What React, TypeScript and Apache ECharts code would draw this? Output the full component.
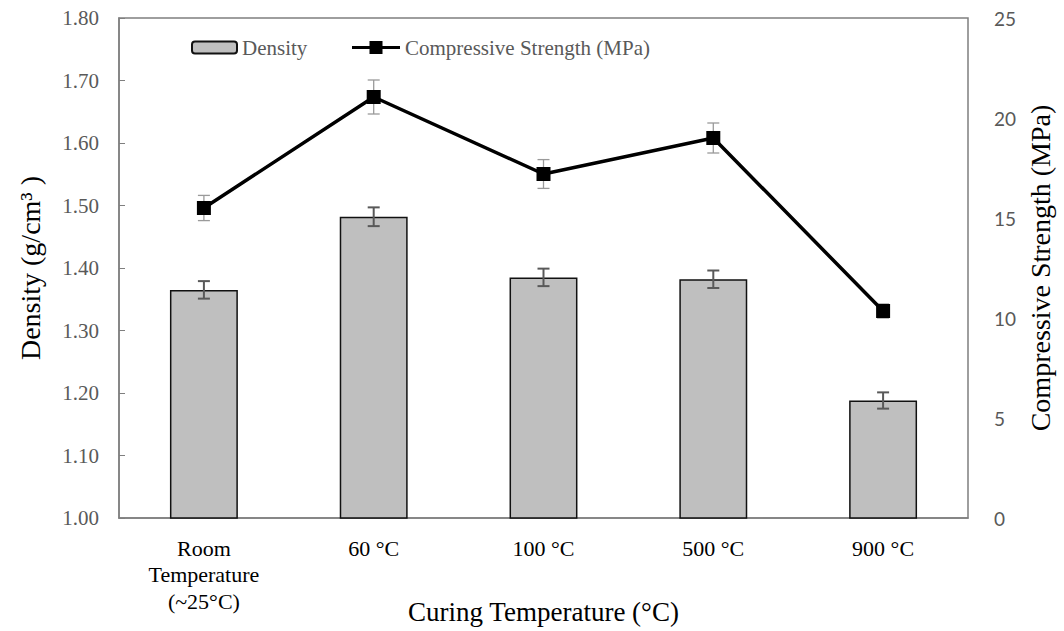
import React, { useEffect, useRef } from "react";
import * as echarts from "echarts";

const categories = ["Room\nTemperature\n(~25°C)", "60 °C", "100 °C", "500 °C", "900 °C"];
const density = [1.365, 1.482, 1.385, 1.382, 1.188];
const densityErr = [0.014, 0.015, 0.014, 0.014, 0.013];
const strength = [15.5, 21.05, 17.2, 19.0, 10.35];
const strengthErr = [0.63, 0.85, 0.72, 0.75, 0.35];

const SERIF = "'Liberation Serif', 'Times New Roman', serif";
const AXIS_GRAY = "#7f7f7f";

function errRender(color: string, width: number, half: number) {
  return (params: any, api: any) => {
    const x = api.value(0);
    const lo = api.value(1);
    const hi = api.value(2);
    const p1 = api.coord([x, lo]);
    const p2 = api.coord([x, hi]);
    const style = { stroke: color, lineWidth: width };
    return {
      type: "group",
      children: [
        { type: "line", shape: { x1: p1[0], y1: p1[1], x2: p2[0], y2: p2[1] }, style },
        { type: "line", shape: { x1: p1[0] - half, y1: p1[1], x2: p1[0] + half, y2: p1[1] }, style },
        { type: "line", shape: { x1: p2[0] - half, y1: p2[1], x2: p2[0] + half, y2: p2[1] }, style },
      ],
    };
  };
}

export default function App() {
  const ref = useRef<HTMLDivElement>(null);
  useEffect(() => {
    if (!ref.current) return;
    const chart = echarts.init(ref.current, undefined, { renderer: "svg" });
    const densityErrData = density.map((v, i) => [i, v - densityErr[i], v + densityErr[i]]);
    const strengthErrData = strength.map((v, i) => [i, v - strengthErr[i], v + strengthErr[i]]);
    chart.setOption({
      animation: false,
      backgroundColor: "#ffffff",
      grid: {
        left: 119,
        right: 96,
        top: 18,
        bottom: 113,
        show: true,
        borderColor: AXIS_GRAY,
        borderWidth: 1.5,
        containLabel: false,
        outerBoundsMode: "none",
      },
      legend: [
        {
          left: 186,
          top: 32,
          itemWidth: 45,
          itemHeight: 12,
          textStyle: { fontFamily: SERIF, fontSize: 21, color: "#595959" },
          data: ["Density"],
        },
        {
          left: 347,
          top: 32,
          itemWidth: 48,
          itemHeight: 13,
          textStyle: { fontFamily: SERIF, fontSize: 21, color: "#595959" },
          data: [
            {
              name: "Compressive Strength (MPa)",
              icon: "path://M0,5 L17.5,5 L17.5,0 L30.5,0 L30.5,5 L48,5 L48,8 L30.5,8 L30.5,13 L17.5,13 L17.5,8 L0,8 Z",
            },
          ],
        },
      ],
      xAxis: {
        type: "category",
        data: categories,
        name: "Curing Temperature (°C)",
        nameLocation: "middle",
        nameGap: 80,
        nameMoveOverlap: false,
        nameTextStyle: { fontFamily: SERIF, fontSize: 27, color: "#000" },
        axisLine: { show: true, lineStyle: { color: AXIS_GRAY, width: 1.5 } },
        axisTick: { show: true, inside: true, alignWithLabel: true, length: 5, lineStyle: { color: AXIS_GRAY } },
        axisLabel: { fontFamily: SERIF, fontSize: 22, color: "#000", lineHeight: 26.5, margin: 17 },
        splitLine: { show: false },
      },
      yAxis: [
        {
          type: "value",
          min: 1.0,
          max: 1.8,
          interval: 0.1,
          name: "Density (g/cm³ )",
          nameLocation: "middle",
          nameGap: 75,
          nameMoveOverlap: false,
          nameTextStyle: { fontFamily: SERIF, fontSize: 28, color: "#000" },
          axisLine: { show: true, lineStyle: { color: AXIS_GRAY, width: 1.5 } },
          axisTick: { show: true, inside: true, length: 6, lineStyle: { color: AXIS_GRAY } },
          axisLabel: {
            fontFamily: SERIF,
            fontSize: 21,
            color: "#595959",
            margin: 20,
            formatter: (v: number) => v.toFixed(2),
          },
          splitLine: { show: false },
        },
        {
          type: "value",
          min: 0,
          max: 25,
          interval: 5,
          name: "Compressive Strength (MPa)",
          nameLocation: "middle",
          nameGap: 58,
          nameMoveOverlap: false,
          nameTextStyle: { fontFamily: SERIF, fontSize: 28, color: "#000" },
          axisLine: { show: false },
          axisTick: { show: false },
          axisLabel: { fontFamily: "Lato, 'Open Sans', sans-serif", fontSize: 19, color: "#595959", margin: 26 },
          splitLine: { show: false },
        },
      ],
      series: [
        {
          name: "Density",
          type: "bar",
          data: density,
          barWidth: "40%",
          itemStyle: { color: "#bfbfbf", borderColor: "#111", borderWidth: 1.5 },
          z: 2,
        },
        {
          name: "densityErr",
          type: "custom",
          data: densityErrData,
          renderItem: errRender("#595959", 2, 6),
          z: 3,
          silent: true,
        },
        {
          name: "strengthErr",
          type: "custom",
          yAxisIndex: 1,
          data: strengthErrData,
          renderItem: errRender("#9a9a9a", 1.3, 6),
          z: 4,
          silent: true,
        },
        {
          name: "Compressive Strength (MPa)",
          type: "line",
          yAxisIndex: 1,
          data: strength,
          symbol: "rect",
          symbolSize: 14,
          lineStyle: { color: "#000", width: 3.5 },
          itemStyle: { color: "#000" },
          z: 5,
        },
      ],
    });
    return () => chart.dispose();
  }, []);
  return <div ref={ref} style={{ width: 1064, height: 631, position: "absolute", left: 0, top: 0 }} />;
}
